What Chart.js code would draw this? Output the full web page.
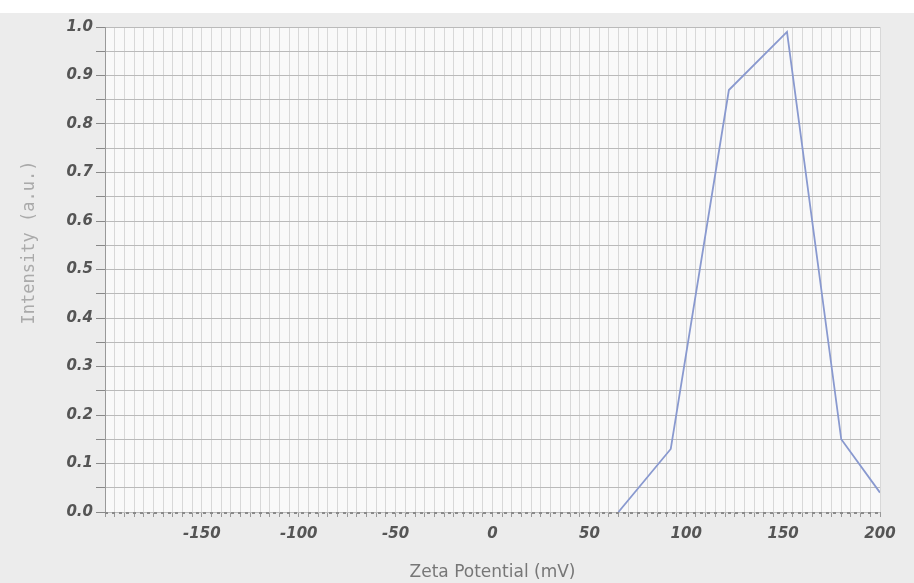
<!DOCTYPE html>
<html>
<head>
<meta charset="utf-8">
<script src="https://cdn.jsdelivr.net/npm/chart.js@4"></script>
<style>
  html, body { margin: 0; padding: 0; background: #ffffff; }
  #wrap { position: absolute; left: 0; top: 13px; width: 914px; height: 570px; background: #ececec; }
  #box { position: absolute; left: 0; top: -13px; width: 914px; height: 583px; }
</style>
</head>
<body>
<div id="wrap"><div id="box"><canvas id="chart"></canvas></div></div>
<script>
// zeta potential (mV) and intensity
const zeta = [65, 92, 122, 152, 180, 200];
const intensity = [0.0, 0.13, 0.87, 0.99, 0.15, 0.04];

const X_MIN = -200, X_MAX = 200;
const Y_MIN = 0, Y_MAX = 1;
const Y_TITLE = "Intensity (a.u.)";

const points = zeta.map((z, i) => ({ x: z, y: intensity[i] }));

// white plot area, dotted bottom axis line, y title sitting a bit high as in the print
const plotDeco = {
    id: "plotDeco",
    beforeDraw(chart) {
        const { ctx, chartArea: a } = chart;
        ctx.save();
        ctx.fillStyle = "#f9f9f9";
        ctx.fillRect(a.left, a.top, a.right - a.left, a.bottom - a.top);
        ctx.restore();
    },
    afterDatasetsDraw(chart) {
        const { ctx, chartArea: a } = chart;
        ctx.save();
        ctx.strokeStyle = "#8a8a8a";
        ctx.lineWidth = 2;
        ctx.setLineDash([3, 4]);
        ctx.beginPath();
        ctx.moveTo(a.left, a.bottom + 1);
        ctx.lineTo(a.right, a.bottom + 1);
        ctx.stroke();
        ctx.restore();
    },
    afterDraw(chart) {
        const { ctx, chartArea: a } = chart;
        ctx.save();
        ctx.translate(30, (a.top + a.bottom) / 2 - 27);
        ctx.rotate(-Math.PI / 2);
        ctx.font = "17px 'DejaVu Sans Mono'";
        ctx.fillStyle = "#aaa";
        ctx.textAlign = "center";
        ctx.textBaseline = "middle";
        ctx.fillText(Y_TITLE, 0, 0);
        ctx.restore();
    }
};

const tickFont = { family: "DejaVu Sans", size: 15, style: "italic", weight: "bold" };

new Chart(document.getElementById("chart").getContext("2d"), {
    type: "line",
    data: {
        datasets: [{
            data: points,
            borderColor: "#8999cf",
            borderWidth: 1.8,
            pointRadius: 0,
            tension: 0,
            fill: false
        }]
    },
    options: {
        responsive: true,
        maintainAspectRatio: false,
        animation: false,
        layout: { padding: { left: 0, right: 34, top: 27, bottom: 0 } },
        plugins: { legend: { display: false }, tooltip: { enabled: false } },
        scales: {
            x: {
                type: "linear",
                min: X_MIN,
                max: X_MAX,
                afterFit: s => { s.height = 71; },
                ticks: {
                    stepSize: 5,
                    autoSkip: false,
                    maxRotation: 0,
                    color: "#555",
                    font: tickFont,
                    padding: 8,
                    callback: v => (v % 50 === 0 && v !== X_MIN) ? String(v) : ""
                },
                grid: {
                    color: "#d8d8d8",
                    lineWidth: 1,
                    tickLength: 5,
                    tickColor: "#999"
                },
                border: { display: false },
                title: {
                    display: true,
                    text: "Zeta Potential (mV)",
                    color: "#777",
                    font: { family: "DejaVu Sans", size: 17 },
                    padding: { top: 10, bottom: 0 }
                }
            },
            y: {
                min: Y_MIN,
                max: Y_MAX,
                afterFit: s => { s.width = 105; },
                ticks: {
                    stepSize: 0.05,
                    autoSkip: false,
                    color: "#555",
                    font: tickFont,
                    padding: 3,
                    callback: v => (Math.round(v * 100) % 10 === 0) ? v.toFixed(1) : ""
                },
                grid: {
                    color: "#bababa",
                    lineWidth: 1,
                    tickLength: 9,
                    tickColor: "#888"
                },
                border: { color: "#999", width: 1 }
            }
        }
    },
    plugins: [plotDeco]
});
</script>
</body>
</html>
